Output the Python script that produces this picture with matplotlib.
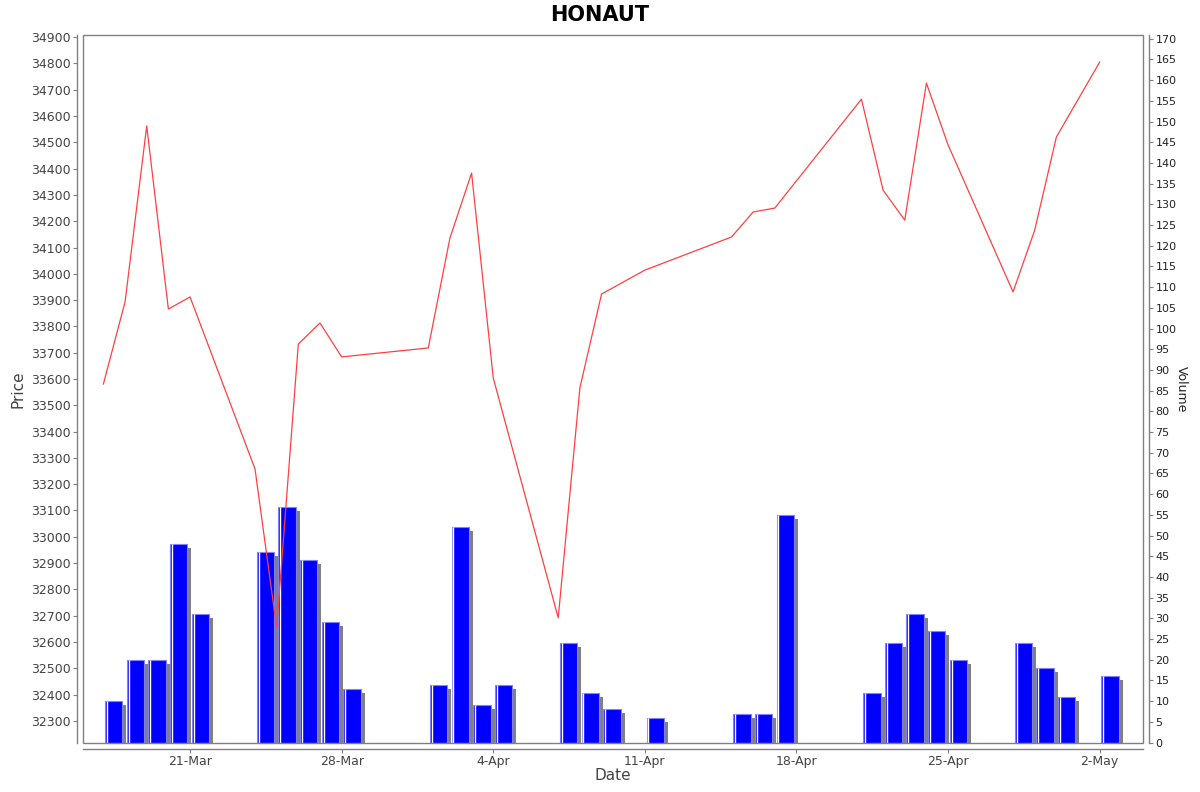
import datetime as dt
import matplotlib
matplotlib.use('Agg')
import matplotlib.pyplot as plt
import matplotlib.dates as mdates
from matplotlib.patches import Rectangle
from matplotlib.transforms import ScaledTranslation
from matplotlib.ticker import MultipleLocator, FuncFormatter

# Торговые дни (2025)
dates = ['2025-03-17', '2025-03-18', '2025-03-19', '2025-03-20', '2025-03-21',
         '2025-03-24', '2025-03-25', '2025-03-26', '2025-03-27', '2025-03-28',
         '2025-04-01', '2025-04-02', '2025-04-03', '2025-04-04',
         '2025-04-07', '2025-04-08', '2025-04-09', '2025-04-11',
         '2025-04-15', '2025-04-16', '2025-04-17',
         '2025-04-21', '2025-04-22', '2025-04-23', '2025-04-24', '2025-04-25',
         '2025-04-28', '2025-04-29', '2025-04-30', '2025-05-02']
close = [33581, 33893, 34562, 33866, 33912,
         33258, 32654, 33733, 33813, 33684,
         33718, 34136, 34383, 33604,
         32692, 33566, 33923, 34014,
         34140, 34235, 34250,
         34664, 34318, 34204, 34725, 34490,
         33931, 34166, 34520, 34805]
volume = [10, 20, 20, 48, 31,
          46, 57, 44, 29, 13,
          14, 52, 9, 14,
          24, 12, 8, 6,
          7, 7, 55,
          12, 24, 31, 27, 20,
          24, 18, 11, 16]

x = mdates.date2num([dt.datetime.strptime(d, '%Y-%m-%d') for d in dates])

fig = plt.figure(figsize=(12, 7.92), dpi=100)
ax = fig.add_axes([0.0692, 0.0619, 0.8833, 0.8939])  # объём (правая ось)
ax2 = ax.twinx()                                       # цена (левая ось)

# Тень от столбиков
sh = ax.bar(x + 0.08, volume, width=0.8, align='edge', color='#808080', linewidth=0, zorder=1)
off = ScaledTranslation(0.04, -0.04, fig.dpi_scale_trans)
for p in sh.patches:
    p.set_transform(ax.transData + off)

# Столбики объёма
ax.bar(x + 0.08, volume, width=0.8, align='edge', color='#0000ff',
       edgecolor='#8080ff', linewidth=0.8, zorder=2)
ax.vlines(x + 0.08, 0, volume, colors='white', linewidth=1, zorder=3,
          transform=ax.transData + ScaledTranslation(0.018, 0, fig.dpi_scale_trans))

# Линия цены
ax2.plot(x, close, color='#ff4040', linewidth=0.9)

ax.set_xlim(x[0] - 0.94, mdates.date2num(dt.datetime(2025, 5, 4)))
ax.set_ylim(-0.1, 170.9)
ax2.set_ylim(32216, 34908)

ax.yaxis.set_major_locator(MultipleLocator(5))
ax2.yaxis.set_major_locator(MultipleLocator(100))
ax.xaxis.set_major_locator(mdates.WeekdayLocator(byweekday=mdates.FR))
ax.xaxis.set_major_formatter(FuncFormatter(
    lambda v, pos: '%d-%s' % (mdates.num2date(v).day, mdates.num2date(v).strftime('%b'))))

# Оси как в JFreeChart
for a in (ax, ax2):
    a.spines['top'].set_visible(False)
ax.spines['left'].set_visible(False)
ax2.spines['left'].set_visible(True)
ax2.spines['right'].set_visible(False)
ax2.spines['bottom'].set_visible(False)
ax.spines['right'].set_position(('outward', 4))
ax.spines['bottom'].set_position(('outward', 4))
ax2.spines['left'].set_position(('outward', 4))
for a in (ax, ax2):
    for s in a.spines.values():
        s.set_color('#808080')
        s.set_linewidth(1)
ax.add_patch(Rectangle((0, 0), 1, 1, transform=ax.transAxes, fill=False,
                       edgecolor='#808080', linewidth=1, clip_on=False, zorder=5))

ax.yaxis.tick_right()
ax.yaxis.set_label_position('right')
ax2.yaxis.tick_left()
ax2.yaxis.set_label_position('left')

ax.tick_params(axis='y', length=3, color='#808080', labelsize=8, labelcolor='#222222', pad=2)
ax.tick_params(axis='x', length=3, color='#808080', labelsize=9, labelcolor='#444444', pad=2)
ax2.tick_params(axis='y', length=3, color='#808080', labelsize=9, labelcolor='#444444', pad=2)

ax2.set_ylabel('Price', fontsize=11, color='#444444', labelpad=4)
ax.set_ylabel('Volume', fontsize=9, color='#222222', rotation=270, labelpad=8)
ax.set_xlabel('Date', fontsize=11, color='#444444', labelpad=0)

fig.suptitle('HONAUT', fontsize=15, fontweight='bold', y=0.994)

fig.savefig('out.png', dpi=100)
